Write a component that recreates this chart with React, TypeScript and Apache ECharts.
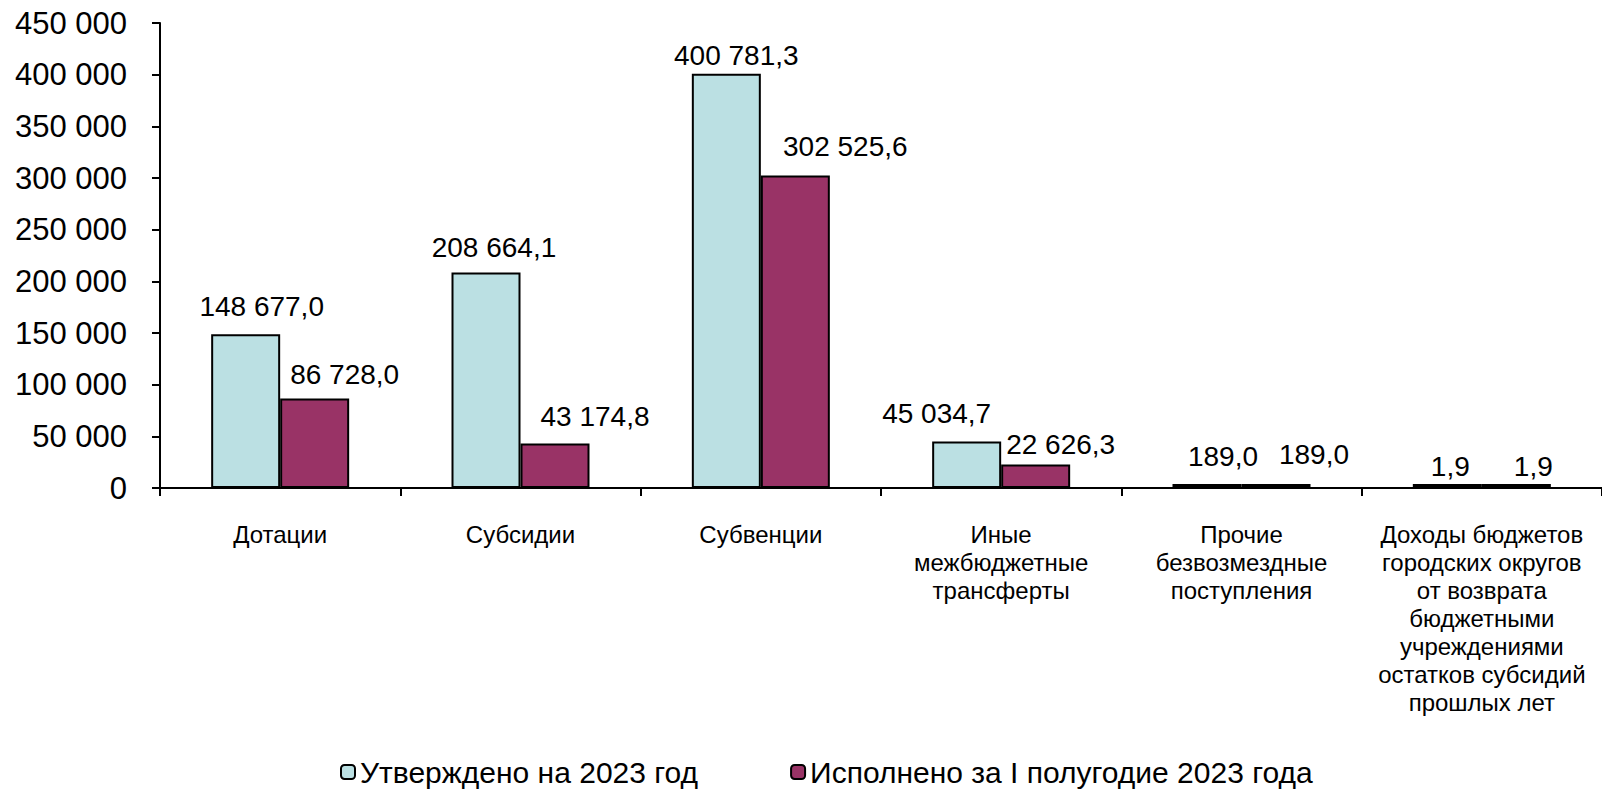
import React, { useEffect, useRef } from "react";
import * as echarts from "echarts";

const categories = [
  "Дотации",
  "Субсидии",
  "Субвенции",
  "Иные\nмежбюджетные\nтрансферты",
  "Прочие\nбезвозмездные\nпоступления",
  "Доходы бюджетов\nгородских округов\nот возврата\nбюджетными\nучреждениями\nостатков субсидий\nпрошлых лет",
];

const seriesNames = ["Утверждено на 2023 год", "Исполнено за I полугодие 2023 года"];

const approved = [148677.0, 208664.1, 400781.3, 45034.7, 189.0, 1.9];
const executed = [86728.0, 43174.8, 302525.6, 22626.3, 189.0, 1.9];

const yTicks = { min: 0, max: 450000, interval: 50000 };

// label nudges (pixels) to mimic the original label placement
const approvedLabelDx = [16, 8, 10, -30, 16, 3];
const approvedLabelGap = [28, 25, 18, 28, 28, 18];
const executedLabelDx = [30, 40, 50, 25, 38, 17];
const executedLabelGap = [24, 27, 29, 20, 30, 18];

const colors = ["#BBE0E3", "#993366"];
const FONT = "'Liberation Sans', Arial, sans-serif";

function fmtThousands(n: number): string {
  return String(Math.round(n)).replace(/\B(?=(\d{3})+(?!\d))/g, " ");
}

function fmtValue(n: number): string {
  const [i, d] = n.toFixed(1).split(".");
  return i.replace(/\B(?=(\d{3})+(?!\d))/g, " ") + "," + d;
}

function buildData(values: number[], dx: number[], gap: number[]) {
  return values.map((v, i) => ({
    value: v,
    label: { offset: [dx[i], -(gap[i] - 14)] },
  }));
}

export default function App() {
  const ref = useRef<HTMLDivElement>(null);

  useEffect(() => {
    if (!ref.current) return;
    const chart = echarts.init(ref.current, undefined, { renderer: "svg" });
    const labelCommon = {
      show: true,
      position: "top",
      distance: 0,
      color: "#000",
      fontSize: 28,
      fontFamily: FONT,
      formatter: (p: any) => fmtValue(p.value),
    };
    const barCommon = {
      type: "bar",
      barWidth: 69,
      barGap: "0%",
      barMinHeight: 4,
      label: labelCommon,
    };
    chart.setOption({
      animation: false,
      backgroundColor: "#fff",
      textStyle: { fontFamily: FONT, color: "#000" },
      grid: { left: 160, top: 23, width: 1447, height: 465, containLabel: false },
      legend: {
        left: 335,
        top: 752,
        itemWidth: 14,
        itemHeight: 14,
        itemGap: 92,
        textStyle: { fontSize: 30, color: "#000", fontFamily: FONT },
        itemStyle: { borderColor: "#000", borderWidth: 2 },
        data: seriesNames,
      },
      xAxis: {
        type: "category",
        data: categories,
        axisLine: { lineStyle: { color: "#000", width: 2 } },
        axisTick: { show: true, length: 8, lineStyle: { color: "#000", width: 2 } },
        axisLabel: {
          interval: 0,
          margin: 32,
          fontSize: 24,
          lineHeight: 28,
          color: "#000",
          fontFamily: FONT,
        },
      },
      yAxis: {
        type: "value",
        min: yTicks.min,
        max: yTicks.max,
        interval: yTicks.interval,
        axisLine: { show: true, lineStyle: { color: "#000", width: 2 } },
        axisTick: { show: true, length: 8, lineStyle: { color: "#000", width: 2 } },
        splitLine: { show: false },
        axisLabel: {
          margin: 33,
          fontSize: 31,
          color: "#000",
          fontFamily: FONT,
          formatter: (v: number) => fmtThousands(v),
        },
      },
      series: [
        {
          ...barCommon,
          name: seriesNames[0],
          itemStyle: { color: colors[0], borderColor: "#000", borderWidth: 2 },
          data: buildData(approved, approvedLabelDx, approvedLabelGap),
        },
        {
          ...barCommon,
          name: seriesNames[1],
          itemStyle: { color: colors[1], borderColor: "#000", borderWidth: 2 },
          data: buildData(executed, executedLabelDx, executedLabelGap),
        },
      ],
    });
    return () => chart.dispose();
  }, []);

  return (
    <div
      ref={ref}
      style={{ position: "fixed", left: 0, top: 0, width: 1602, height: 794, background: "#fff" }}
    />
  );
}
